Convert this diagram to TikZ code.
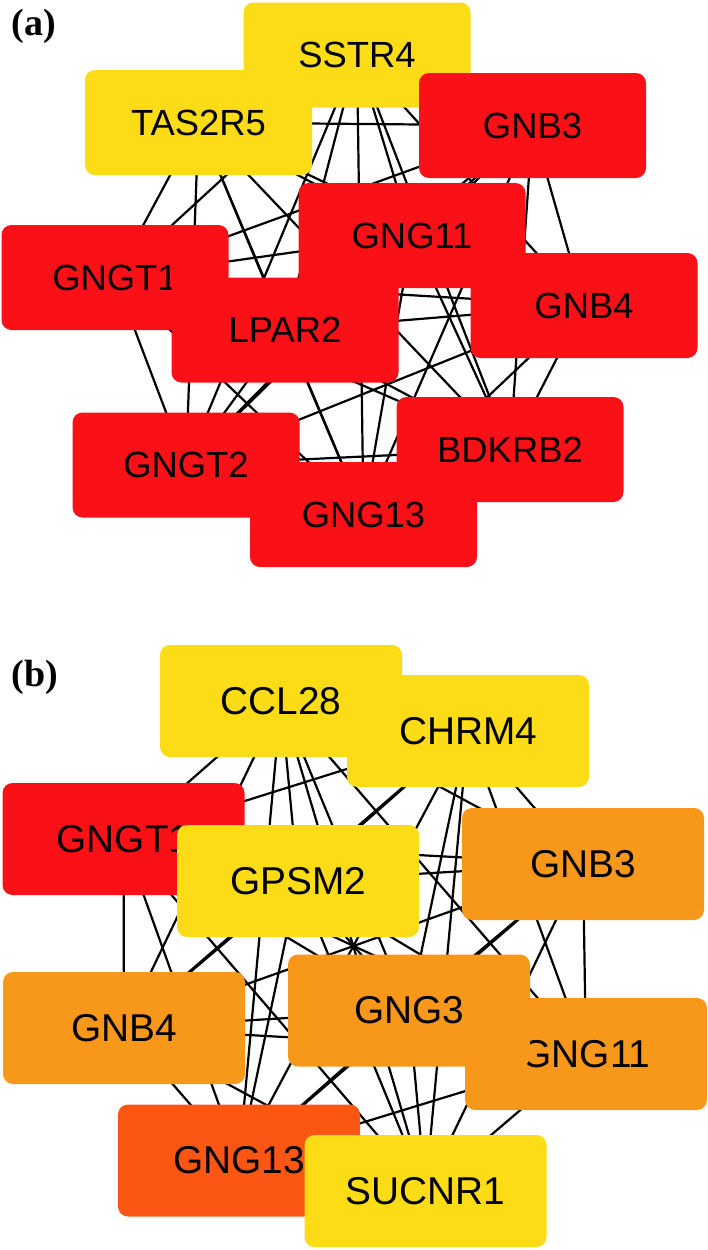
\documentclass[tikz,border=0pt]{standalone}
\usepackage{fontspec}
\setmainfont{Liberation Serif}
\setsansfont{Liberation Sans}
\usepackage{tikz}
\usetikzlibrary{backgrounds}
\definecolor{geneyellow}{RGB}{252,220,22}
\definecolor{genered}{RGB}{250,17,23}
\definecolor{geneorange}{RGB}{248,152,26}
\definecolor{genedark}{RGB}{252,86,20}
\tikzstyle{gene} = [rectangle, rounded corners=5pt, inner sep=0pt]
\tikzstyle{boxa} = [gene, minimum width=113.5pt, minimum height=52.5pt, font=\sffamily\fontsize{18.2}{20}\selectfont]
\tikzstyle{boxb} = [gene, minimum width=121pt, minimum height=56pt, font=\sffamily\fontsize{19.4}{21}\selectfont]
\tikzstyle{lowgene} = [fill=geneyellow]
\tikzstyle{midgene} = [fill=geneorange]
\tikzstyle{uppergene} = [fill=genedark]
\tikzstyle{topgene} = [fill=genered]
\tikzstyle{panel} = [font=\bfseries\fontsize{19}{21}\selectfont]
\tikzstyle{link} = [line width=1.1pt]

\begin{document}
\begin{tikzpicture}[x=0.5pt, y=-0.5pt]
    \useasboundingbox (0,0) rectangle (708,1250);

    % Panel (a).
    \node (panela) [panel] at (34,26) {(a)};
    \foreach \n/\x/\y/\c/\t in {1/357/55/lowgene/SSTR4, 2/198.5/122.5/lowgene/TAS2R5,
        3/532.5/125.5/topgene/GNB3, 4/412/235.5/topgene/GNG11, 5/115/277.5/topgene/GNGT1,
        6/285/330/topgene/LPAR2, 7/584/305.5/topgene/GNB4, 8/510/449.5/topgene/BDKRB2,
        9/186/465/topgene/GNGT2, 10/363.5/514.5/topgene/GNG13} {
        \node (a\n) [boxa, \c] at (\x,\y) {\t};
    }

    % Panel (b).
    \node (panelb) [panel] at (35,677) {(b)};
    \foreach \n/\x/\y/\c/\t in {1/281/701/lowgene/CCL28, 2/468/731/lowgene/CHRM4,
        3/123.5/839/topgene/GNGT1, 4/298/881/lowgene/GPSM2, 5/583/864/midgene/GNB3,
        6/124/1028/midgene/GNB4, 7/586/1054/midgene/GNG11, 8/409/1010.5/midgene/GNG3,
        9/239/1160.5/uppergene/GNG13, 10/425.5/1191/lowgene/SUCNR1} {
        \node (b\n) [boxb, \c] at (\x,\y) {\t};
    }

    % Links, behind the genes.
    \begin{scope}[on background layer]
        \foreach \i in {1,...,9} {
            \pgfmathtruncatemacro\k{\i+1}
            \foreach \j in {\k,...,10} {
                \draw [link] (a\i.center) -- (a\j.center);
                \draw [link] (b\i.center) -- (b\j.center);
            }
        }
    \end{scope}
\end{tikzpicture}
\end{document}
